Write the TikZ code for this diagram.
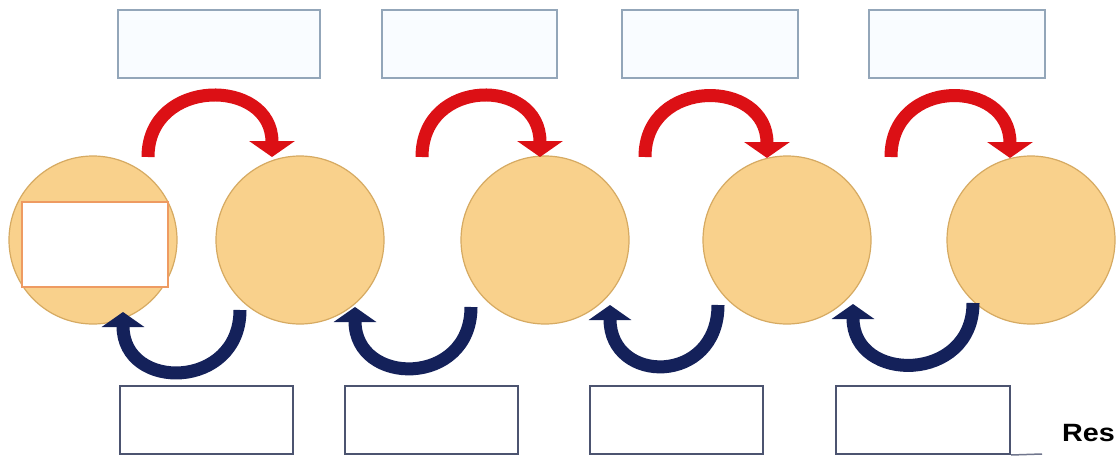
\documentclass[tikz,border=0pt]{standalone}
\usepackage{fontspec}
\usetikzlibrary{arrows.meta,calc}
\definecolor{circfill}{HTML}{F9D18C}
\definecolor{circline}{HTML}{D6AA62}
\definecolor{redarr}{HTML}{DC1015}
\definecolor{bluearr}{HTML}{14215A}
\definecolor{topbox}{HTML}{93A6B9}
\definecolor{topfill}{HTML}{F9FCFF}
\definecolor{botbox}{HTML}{4C5470}
\definecolor{innerbox}{HTML}{EE9B62}
\newfontfamily\labelfont{Liberation Sans}
\begin{document}
\begin{tikzpicture}[x=1pt,y=-1pt,
  ball/.style={circle,draw=circline,line width=1.2pt,fill=circfill,minimum size=168pt,inner sep=0pt},
  topcard/.style={draw=topbox,line width=2.5pt,fill=topfill,inner sep=0pt,minimum height=68pt},
  botcard/.style={draw=botbox,line width=2pt,fill=white,inner sep=0pt,minimum height=68pt},
  innercard/.style={draw=innerbox,line width=2pt,fill=white,inner sep=0pt},
  redflow/.style={draw=redarr,line width=13pt,-{Triangle[length=16pt,width=45pt]}},
  blueflow/.style={draw=bluearr,line width=13pt,-{Triangle[length=15pt,width=42pt]}},
]
\useasboundingbox (0,0) rectangle (1116,458);
\fill[white] (0,0) rectangle (1116,458);

% top boxes
\node[topcard,minimum width=202pt] (t1) at (219,44) {};
\node[topcard,minimum width=175pt] (t2) at (469.5,44) {};
\node[topcard,minimum width=176pt] (t3) at (710,44) {};
\node[topcard,minimum width=176pt] (t4) at (957,44) {};

% circles
\node[ball] (c1) at (93,240) {};
\node[ball] (c2) at (300,240) {};
\node[ball] (c3) at (545,240) {};
\node[ball] (c4) at (787,240) {};
\node[ball] (c5) at (1031,240) {};

\node[innercard,minimum width=146pt,minimum height=85pt] (in1) at (95,244.5) {};

% bottom boxes
\node[botcard,minimum width=173pt] (b1) at (206.5,420) {};
\node[botcard,minimum width=173pt] (b2) at (431.5,420) {};
\node[botcard,minimum width=173pt] (b3) at (676.5,420) {};
\node[botcard,minimum width=174pt] (b4) at (923,420) {};

% arrow end points
\coordinate (r1s) at (148,157);  \coordinate (r1e) at (272,157);
\coordinate (r2s) at (422,157);  \coordinate (r2e) at (540,157);
\coordinate (r3s) at (645,157);  \coordinate (r3e) at (767,158);
\coordinate (r4s) at (891,157);  \coordinate (r4e) at (1010,158);

\coordinate (u1s) at (240,310);  \coordinate (u1e) at (123,312);
\coordinate (u2s) at (471,307);  \coordinate (u2e) at (355,307);
\coordinate (u3s) at (718,305);  \coordinate (u3e) at (610,305);
\coordinate (u4s) at (973,303);  \coordinate (u4e) at (853,304);

\foreach \i in {1,2,3,4}{
  \draw[redflow] (r\i s) .. controls ($(r\i s)+(0,-80)$) and ($(r\i e)+(0,-80)$) .. (r\i e);
  \draw[blueflow] (u\i s) .. controls ($(u\i s)+(0,80)$) and ($(u\i e)+(0,80)$) .. (u\i e);
}

\coordinate (ruleend) at (1042,454);
\draw[botbox!80,line width=1.5pt] (b4.south east) -- (ruleend);

\node[anchor=base west,inner sep=0pt,font=\labelfont\bfseries\fontsize{25}{25}\selectfont] (res) at (1062,441) {\scalebox{1.15}[1]{Res}};
\end{tikzpicture}
\end{document}
